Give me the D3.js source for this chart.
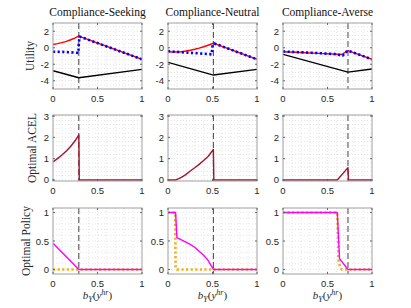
<!DOCTYPE html>
<html><head><meta charset="utf-8">
<script src="https://cdn.jsdelivr.net/npm/d3@7"></script>
<style>body{margin:0;background:#fff}svg{display:block}</style>
</head><body>
<svg id="c" width="411" height="308"></svg>
<script>
// ---- data ----
const titles = ["Compliance-Seeking", "Compliance-Neutral", "Compliance-Averse"];
const rowLabels = ["Utility", "Optimal ACEL", "Optimal Policy"];
const thresholds = [0.29, 0.51, 0.73];
const xTicks = [0, 0.5, 1];
const xTickLabels = ["0", "0.5", "1"];
const yTicksUtility = [-4, -2, 0, 2];
const yTicksAcel = [0, 1, 2, 3];
const yTicksPolicy = [0, 0.5, 1];
const yTickLabelsPolicy = ["0", "0.5", "1"];

// Utility: red (solid), blue (dotted), black (solid) per panel, as [x, y]
const utilRed = [
  [[0,0.4],[0.05,0.5],[0.1,0.62],[0.15,0.78],[0.2,0.97],[0.25,1.2],[0.29,1.42],[1,-1.4]],
  [[0,-0.48],[0.05,-0.52],[0.1,-0.52],[0.15,-0.48],[0.2,-0.4],[0.25,-0.3],[0.3,-0.18],[0.35,-0.04],[0.4,0.12],[0.45,0.3],[0.51,0.55],[1,-1.4]],
  [[0,-0.48],[0.2,-0.58],[0.4,-0.68],[0.6,-0.78],[0.66,-0.82],[0.73,-0.35],[1,-1.4]]
];
const utilBlue = [
  [[0,-0.48],[0.1,-0.5],[0.2,-0.55],[0.285,-0.62],[0.29,0.6],[0.3,1.35],[1,-1.4]],
  [[0,-0.4],[0.1,-0.5],[0.2,-0.58],[0.3,-0.65],[0.4,-0.72],[0.49,-0.8],[0.5,0.2],[0.52,0.52],[1,-1.4]],
  [[0,-0.45],[0.2,-0.55],[0.4,-0.65],[0.6,-0.78],[0.67,-0.97],[0.7,-0.6],[0.73,-0.35],[1,-1.4]]
];
const utilBlack = [
  [[0,-2.79],[0.29,-3.64],[1,-2.62]],
  [[0,-1.77],[0.51,-3.31],[1,-2.62]],
  [[0,-0.8],[0.73,-2.95],[1,-2.58]]
];
// Optimal ACEL
const acel = [
  [[0,0.85],[0.05,1.0],[0.1,1.17],[0.15,1.36],[0.2,1.58],[0.25,1.85],[0.29,2.12],[0.295,0],[1,0]],
  [[0,0],[0.09,0],[0.15,0.12],[0.2,0.25],[0.25,0.42],[0.3,0.57],[0.35,0.73],[0.4,0.91],[0.45,1.1],[0.51,1.43],[0.515,0],[1,0]],
  [[0,0],[0.61,0],[0.73,0.58],[0.735,0],[1,0]]
];
// Optimal Policy: magenta (solid), orange (dotted)
const polMagenta = [
  [[0,0.46],[0.29,0],[1,0]],
  [[0,1],[0.085,1],[0.1,0.56],[0.15,0.52],[0.2,0.48],[0.25,0.44],[0.3,0.39],[0.35,0.32],[0.4,0.25],[0.45,0.16],[0.51,0],[1,0]],
  [[0,1],[0.61,1],[0.635,0.19],[0.73,0],[1,0]]
];
const polOrange = [
  [[0,0],[1,0]],
  [[0,1],[0.08,1],[0.085,0.03],[0.1,0],[1,0]],
  [[0,1],[0.61,1],[0.625,0.15],[0.64,0.05],[0.66,0],[1,0]]
];

// ---- layout ----
const svg = d3.select("#c");
const colX = [53, 168, 283], pw = 89;
const rows = [
  {top: 23, bottom: 89, domain: [-5, 3], ticks: yTicksUtility, labels: yTicksUtility.map(String), gridStep: 0.5, labelX: 33.5},
  {top: 115, bottom: 181, domain: [-0.05, 3.05], ticks: yTicksAcel, labels: yTicksAcel.map(String), gridStep: 0.2, labelX: 35.5},
  {top: 208, bottom: 274, domain: [-0.08, 1.08], ticks: yTicksPolicy, labels: yTickLabelsPolicy, gridStep: 0.1, labelX: 30}
];
const serif = "'Liberation Serif','Times New Roman',serif";
const sans = "'Liberation Sans',Arial,sans-serif";

function drawLine(g, x, y, data, color, width, dash) {
  const line = d3.line().x(d => x(d[0])).y(d => y(d[1]));
  const p = g.append("path").attr("d", line(data)).attr("fill", "none")
    .attr("stroke", color).attr("stroke-width", width).attr("stroke-linejoin", "round");
  if (dash) p.attr("stroke-dasharray", dash);
}

rows.forEach((r, ri) => {
  colX.forEach((cx, ci) => {
    const x = d3.scaleLinear().domain([0, 1]).range([cx, cx + pw]);
    const y = d3.scaleLinear().domain(r.domain).range([r.bottom, r.top]);
    const g = svg.append("g");
    const clipId = "clip" + ri + ci;
    svg.append("clipPath").attr("id", clipId).append("rect")
      .attr("x", cx).attr("y", r.top).attr("width", pw).attr("height", r.bottom - r.top);
    // minor grid
    const grid = g.append("g").attr("stroke", "#d4d4d4").attr("stroke-width", 0.6).attr("stroke-dasharray", "1,2");
    d3.range(0.1, 1, 0.1).forEach(v => grid.append("line").attr("x1", x(v)).attr("x2", x(v)).attr("y1", r.top).attr("y2", r.bottom));
    const yg = d3.range(Math.ceil(r.domain[0] / r.gridStep) * r.gridStep, r.domain[1], r.gridStep);
    yg.forEach(v => grid.append("line").attr("x1", cx).attr("x2", cx + pw).attr("y1", y(v)).attr("y2", y(v)));
    // threshold dashed line
    g.append("line").attr("x1", x(thresholds[ci])).attr("x2", x(thresholds[ci]))
      .attr("y1", r.top).attr("y2", r.bottom).attr("stroke", "#444").attr("stroke-width", 1)
      .attr("stroke-dasharray", "6,3");
    const lg = g.append("g").attr("clip-path", `url(#${clipId})`);
    if (ri === 0) {
      drawLine(lg, x, y, utilBlack[ci], "#000", 1.4);
      drawLine(lg, x, y, utilRed[ci], "#ff0000", 1.4);
      drawLine(lg, x, y, utilBlue[ci], "#0000ff", 2.6, "2.2,2.4");
    } else if (ri === 1) {
      drawLine(lg, x, y, acel[ci], "#a2142f", 1.4);
    } else {
      drawLine(lg, x, y, polOrange[ci], "#edb120", 2.6, "2.2,2.4");
      drawLine(lg, x, y, polMagenta[ci], "#ff00ff", 1.4);
    }
    // box
    g.append("rect").attr("x", cx).attr("y", r.top).attr("width", pw).attr("height", r.bottom - r.top)
      .attr("fill", "none").attr("stroke", "#a0a0a0").attr("stroke-width", 1);
    // tick marks (inward)
    xTicks.forEach(v => {
      g.append("line").attr("x1", x(v)).attr("x2", x(v)).attr("y1", r.bottom).attr("y2", r.bottom - 2).attr("stroke", "#666");
      g.append("line").attr("x1", x(v)).attr("x2", x(v)).attr("y1", r.top).attr("y2", r.top + 2).attr("stroke", "#666");
    });
    r.ticks.forEach(v => {
      g.append("line").attr("x1", cx).attr("x2", cx + 2).attr("y1", y(v)).attr("y2", y(v)).attr("stroke", "#666");
      g.append("line").attr("x1", cx + pw).attr("x2", cx + pw - 2).attr("y1", y(v)).attr("y2", y(v)).attr("stroke", "#666");
    });
    // tick labels
    xTicks.forEach((v, i) => {
      g.append("text").attr("x", x(v)).attr("y", r.bottom + 13).attr("text-anchor", "middle")
        .attr("font-family", sans).attr("font-size", 9.5).attr("fill", "#262626").text(xTickLabels[i]);
    });
    r.ticks.forEach((v, i) => {
      g.append("text").attr("x", cx - 4).attr("y", y(v) + 3.5).attr("text-anchor", "end")
        .attr("font-family", sans).attr("font-size", 9.5).attr("fill", "#262626").text(r.labels[i]);
    });
    if (ri === 0) {
      svg.append("text").attr("x", cx + pw / 2).attr("y", 16).attr("text-anchor", "middle")
        .attr("font-family", serif).attr("font-size", 11.5).attr("fill", "#111").text(titles[ci]);
    }
    if (ri === 2) {
      const t = svg.append("text").attr("x", cx + pw / 2).attr("y", 299).attr("text-anchor", "middle")
        .attr("font-family", serif).attr("font-size", 11).attr("font-style", "italic").attr("fill", "#262626");
      t.append("tspan").text("b");
      t.append("tspan").attr("font-size", 8).attr("dy", 2.5).text("Y");
      t.append("tspan").attr("dy", -2.5).attr("font-style", "normal").text("(");
      t.append("tspan").text("y");
      t.append("tspan").attr("font-size", 8).attr("dy", -4).text("hr");
      t.append("tspan").attr("dy", 4).attr("font-style", "normal").text(")");
    }
  });
  const cy = (r.top + r.bottom) / 2;
  svg.append("text").attr("transform", `translate(${r.labelX},${cy}) rotate(-90)`).attr("text-anchor", "middle")
    .attr("font-family", serif).attr("font-size", 11.5).attr("fill", "#262626").text(rowLabels[ri]);
});
</script>
</body></html>
